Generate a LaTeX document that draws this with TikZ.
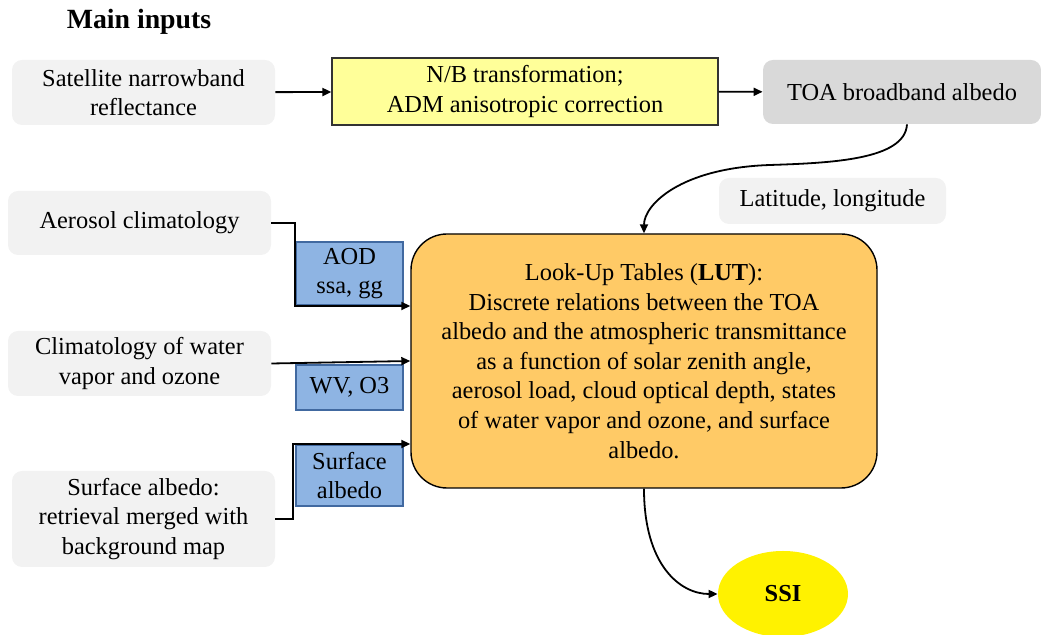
\documentclass[tikz,border=0pt]{standalone}
\usepackage{fontspec}
\setmainfont{Liberation Serif}
\usetikzlibrary{shapes.geometric,arrows.meta}
\definecolor{inputgrey}{RGB}{242,242,242}
\definecolor{toagrey}{RGB}{217,217,217}
\definecolor{nbyellow}{RGB}{255,255,153}
\definecolor{parblue}{RGB}{142,180,227}
\definecolor{parborder}{RGB}{65,105,160}
\definecolor{lutorange}{RGB}{255,202,102}
\begin{document}
\begin{tikzpicture}[x=0.5pt,y=-0.5pt,
  every node/.style={font=\fontsize{12.2}{14.8}\selectfont, align=center, inner sep=0pt},
  inbox/.style={fill=inputgrey, rounded corners=5pt, minimum width=131.5pt, minimum height=32.5pt},
  parbox/.style={fill=parblue, draw=parborder, line width=1pt, minimum width=53.5pt},
  arr/.style={-{Triangle[length=4.5pt,width=4pt]}, line width=0.9pt}]
 \useasboundingbox (0,0) rectangle (1041,635);
 \node[font=\fontsize{13.9}{16}\selectfont\bfseries] (main) at (139,22) {Main inputs};
 \node[inbox] (sat) at (143.5,92.5) {Satellite narrowband\\reflectance};
 \node[fill=nbyellow, draw=black!80, line width=0.6pt, minimum width=193pt, minimum height=33.5pt] (nb) at (525,91.5) {N/B transformation;\\ADM anisotropic correction};
 \node[inbox, fill=toagrey, minimum width=139pt, minimum height=32pt] (toa) at (902,92) {TOA broadband albedo};
 \node[inbox, minimum width=113.5pt, minimum height=23pt] (lat) at (832.5,201) {Latitude, longitude};
 \node[inbox, minimum height=32pt] (aer) at (139.5,223) {Aerosol climatology};
 \node[inbox] (clim) at (139.5,363.5) {Climatology of water\\vapor and ozone};
 \node[inbox, minimum height=48pt] (surf) at (143.5,519) {Surface albedo:\\retrieval merged with\\background map};
 \node[parbox, minimum height=31.5pt] (aod) at (349.5,273.5) {AOD\\ssa, gg};
 \node[parbox, minimum height=22.5pt] (wv) at (349.5,387.5) {WV, O3};
 \node[parbox, minimum height=30.5pt] (salb) at (349.5,475.5) {Surface\\albedo};
 \node[fill=lutorange, draw=black, line width=0.7pt, rounded corners=18pt, minimum width=233pt, minimum height=127pt] (lut) at (644,361)
  {Look-Up Tables (\textbf{LUT}):\\Discrete relations between the TOA\\albedo and the atmospheric transmittance\\as a function of solar zenith angle,\\aerosol load, cloud optical depth, states\\of water vapor and ozone, and surface\\albedo.};
 \node[ellipse, fill=yellow, minimum width=65pt, minimum height=43pt] (ssi) at (783,594) {\textbf{SSI}};
 \draw[arr] (sat) -- (nb);
 \draw[arr] (nb) -- (toa);
 \draw[arr] ([xshift=2.5pt]toa.south) .. controls (905,160) and (830,163) .. (770,165) .. controls (680,168) and (644,205) .. (lut.north);
 \draw[arr] (aer.east) -| (aod.south west) -- (aod.south west -| lut.west);
 \draw[arr] (clim.east) -- (lut.west);
 \draw[arr] (surf.east) -| ([xshift=-1pt]salb.north west) -- (salb.north west -| lut.west);
 \draw[arr] (lut.south) .. controls (644,565) and (680,594) .. (ssi.west);
\end{tikzpicture}
\end{document}
